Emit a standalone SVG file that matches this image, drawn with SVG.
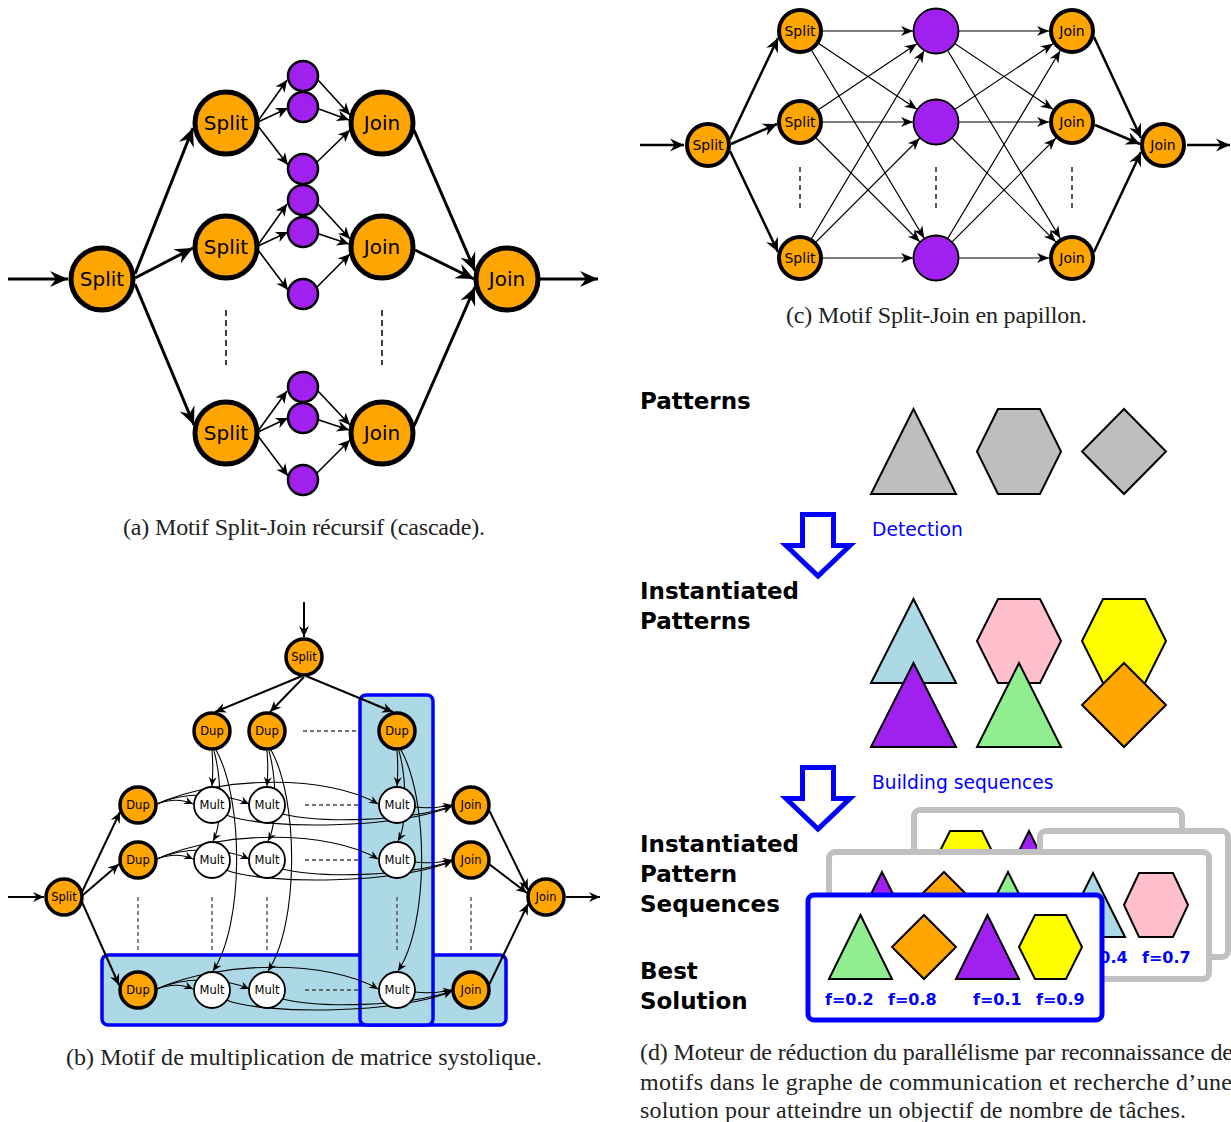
<svg xmlns="http://www.w3.org/2000/svg" width="1231" height="1122" viewBox="0 0 1231 1122">
  <style>
    text { font-family: "DejaVu Sans", sans-serif; }
    .lbl { text-anchor: middle; fill: #000; }
    .na { fill: #ffa500; stroke: #000; stroke-width: 5; }
    .pa { fill: #a020f0; stroke: #000; stroke-width: 2.5; }
    .ta { font-size: 20px; }
    .nc { fill: #ffa500; stroke: #000; stroke-width: 4; }
    .pc { fill: #a020f0; stroke: #000; stroke-width: 1.8; }
    .tc { font-size: 14px; }
    .nb { fill: #ffa500; stroke: #000; stroke-width: 3.5; }
    .mb { fill: #fff; stroke: #000; stroke-width: 1.8; }
    .tb { font-size: 11.5px; }
    .e { fill: none; stroke: #000; }
    .w3 { stroke-width: 3; }
    .w16 { stroke-width: 1.6; }
    .w25 { stroke-width: 2.5; }
    .w12 { stroke-width: 1.2; }
    .w2 { stroke-width: 2; }
    .w11 { stroke-width: 1.1; }
    .dashA { fill: none; stroke: #000; stroke-width: 1.5; stroke-dasharray: 6 4; }
    .dashC { fill: none; stroke: #000; stroke-width: 1.3; stroke-dasharray: 5 4; }
    .dashB { fill: none; stroke: #444; stroke-width: 1.3; stroke-dasharray: 4 3; }
    .box { fill: #add8e6; stroke: #0000ff; stroke-width: 3.5; }
    .cap { font-family: "Liberation Serif", serif; font-size: 24px; fill: #222; }
    .head { font-family: "DejaVu Sans", sans-serif; font-weight: bold; font-size: 23px; fill: #000; }
    .blue { font-size: 18.7px; fill: #0000ff; }
    .fv { font-weight: bold; font-size: 16px; fill: #0000ff; }
    .shp { stroke: #000; stroke-width: 2; }
    .card { fill: #fff; stroke: #c0c0c0; stroke-width: 6; }
    .best { fill: #fff; stroke: #0000ff; stroke-width: 5; }
    .hollow { fill: #fff; stroke: #0000ff; stroke-width: 5; stroke-miterlimit: 10; }
    marker path { fill: #000; stroke: none; }
  </style>
  <defs>
    <!-- arrowheads, tip placed at the end of the path -->
    <marker id="mA_thk" markerUnits="userSpaceOnUse" orient="auto" overflow="visible" markerWidth="1" markerHeight="1"><path d="M0,0 L-18,-8 L-12,0 L-18,8 Z"/></marker>
    <marker id="mA_thn" markerUnits="userSpaceOnUse" orient="auto" overflow="visible" markerWidth="1" markerHeight="1"><path d="M0,0 L-12,-5.5 L-8.5,0 L-12,5.5 Z"/></marker>
    <!-- butterfly thin edges: tip pulled back to the rim of a radius-23 circle -->
    <marker id="mC_thn" markerUnits="userSpaceOnUse" orient="auto" overflow="visible" markerWidth="1" markerHeight="1"><path d="M-23,0 L-35,-5 L-31.5,0 L-35,5 Z"/></marker>
    <marker id="mC_thk" markerUnits="userSpaceOnUse" orient="auto" overflow="visible" markerWidth="1" markerHeight="1"><path d="M0,0 L-14,-6.5 L-9.5,0 L-14,6.5 Z"/></marker>
    <marker id="mB_0" markerUnits="userSpaceOnUse" orient="auto" overflow="visible" markerWidth="1" markerHeight="1"><path d="M0,0 L-11,-5 L-7.5,0 L-11,5 Z"/></marker>
    <marker id="mB_s" markerUnits="userSpaceOnUse" orient="auto" overflow="visible" markerWidth="1" markerHeight="1"><path d="M0,0 L-9,-4 L-6,0 L-9,4 Z"/></marker>
  </defs>

  <!-- ===== (a) recursive split-join ===== -->
  <g id="a-connectors">
    <g class="e w3" marker-end="url(#mA_thk)">
      <path d="M8,279 L68,279"/>
      <path d="M135,274 L193,128"/>
      <path d="M135,278 L193,248"/>
      <path d="M135,284 L194,425"/>
      <path d="M414,130 L475,271"/>
      <path d="M415,250 L474,279"/>
      <path d="M414,426 L475,287"/>
      <path d="M540,279 L598,279"/>
    </g>
    <g class="e w16" marker-end="url(#mA_thn)">
      <path d="M258,121 L287,80"/><path d="M258,122 L288,108"/><path d="M258,126 L288,165"/>
      <path d="M258,245 L287,204"/><path d="M258,246 L288,232"/><path d="M258,250 L288,290"/>
      <path d="M258,431 L287,391"/><path d="M258,432 L288,418"/><path d="M258,436 L288,476"/>
      <path d="M318,80 L350,115"/><path d="M319,109 L349,120"/><path d="M317,162 L350,130"/>
      <path d="M318,204 L350,239"/><path d="M319,234 L349,244"/><path d="M317,287 L350,254"/>
      <path d="M318,391 L350,425"/><path d="M319,420 L349,430"/><path d="M317,473 L350,440"/>
    </g>
    <path class="dashA" d="M226,310 V365 M382,310 V365"/>
  </g>
  <g id="a-split0"><circle class="na" cx="102" cy="279" r="31"/><text class="lbl ta" x="102" y="286">Split</text></g>
  <g id="a-split1"><circle class="na" cx="226" cy="123" r="31"/><text class="lbl ta" x="226" y="130">Split</text></g>
  <g id="a-split2"><circle class="na" cx="226" cy="247" r="31"/><text class="lbl ta" x="226" y="254">Split</text></g>
  <g id="a-split3"><circle class="na" cx="226" cy="433" r="31"/><text class="lbl ta" x="226" y="440">Split</text></g>
  <g id="a-tasks">
    <circle class="pa" cx="303" cy="76" r="15"/><circle class="pa" cx="303" cy="107" r="15"/><circle class="pa" cx="303" cy="169" r="15"/>
    <circle class="pa" cx="303" cy="200" r="15"/><circle class="pa" cx="303" cy="232" r="15"/><circle class="pa" cx="303" cy="294" r="15"/>
    <circle class="pa" cx="303" cy="387" r="15"/><circle class="pa" cx="303" cy="418" r="15"/><circle class="pa" cx="303" cy="480" r="15"/>
  </g>
  <g id="a-join1"><circle class="na" cx="382" cy="123" r="31"/><text class="lbl ta" x="382" y="130">Join</text></g>
  <g id="a-join2"><circle class="na" cx="382" cy="247" r="31"/><text class="lbl ta" x="382" y="254">Join</text></g>
  <g id="a-join3"><circle class="na" cx="382" cy="433" r="31"/><text class="lbl ta" x="382" y="440">Join</text></g>
  <g id="a-join0"><circle class="na" cx="507" cy="279" r="31"/><text class="lbl ta" x="507" y="286">Join</text></g>
  <text class="cap" x="123" y="535" textLength="362">(a) Motif Split-Join récursif (cascade).</text>

  <!-- ===== (c) butterfly split-join ===== -->
  <g id="c-connectors">
    <g class="e w25" marker-end="url(#mC_thk)">
      <path d="M640,145 L684,145"/>
      <path d="M730,139 L778,38"/><path d="M731,144 L777,124"/><path d="M730,151 L778,252"/>
      <path d="M1094,37 L1141,138"/><path d="M1095,125 L1140,144"/><path d="M1094,252 L1141,152"/>
      <path d="M1187,145 L1230,145"/>
    </g>
    <g class="e w12" marker-end="url(#mC_thn)">
      <path d="M800,31 L936,31"/><path d="M800,31 L936,122"/><path d="M800,31 L936,258"/>
      <path d="M800,122 L936,31"/><path d="M800,122 L936,122"/><path d="M800,122 L936,258"/>
      <path d="M800,258 L936,31"/><path d="M800,258 L936,122"/><path d="M800,258 L936,258"/>
      <path d="M936,31 L1072,31"/><path d="M936,31 L1072,122"/><path d="M936,31 L1072,258"/>
      <path d="M936,122 L1072,31"/><path d="M936,122 L1072,122"/><path d="M936,122 L1072,258"/>
      <path d="M936,258 L1072,31"/><path d="M936,258 L1072,122"/><path d="M936,258 L1072,258"/>
    </g>
    <path class="dashC" d="M800,167 V208 M936,167 V208 M1072,167 V208"/>
  </g>
  <g id="c-split0"><circle class="nc" cx="708" cy="145" r="21"/><text class="lbl tc" x="708" y="150">Split</text></g>
  <g id="c-split1"><circle class="nc" cx="800" cy="31" r="21"/><text class="lbl tc" x="800" y="36">Split</text></g>
  <g id="c-split2"><circle class="nc" cx="800" cy="122" r="21"/><text class="lbl tc" x="800" y="127">Split</text></g>
  <g id="c-split3"><circle class="nc" cx="800" cy="258" r="21"/><text class="lbl tc" x="800" y="263">Split</text></g>
  <g id="c-tasks">
    <circle class="pc" cx="936" cy="31" r="22.5"/><circle class="pc" cx="936" cy="122" r="22.5"/><circle class="pc" cx="936" cy="258" r="22.5"/>
  </g>
  <g id="c-join1"><circle class="nc" cx="1072" cy="31" r="21"/><text class="lbl tc" x="1072" y="36">Join</text></g>
  <g id="c-join2"><circle class="nc" cx="1072" cy="122" r="21"/><text class="lbl tc" x="1072" y="127">Join</text></g>
  <g id="c-join3"><circle class="nc" cx="1072" cy="258" r="21"/><text class="lbl tc" x="1072" y="263">Join</text></g>
  <g id="c-join0"><circle class="nc" cx="1163" cy="145" r="21"/><text class="lbl tc" x="1163" y="150">Join</text></g>
  <text class="cap" x="786" y="323" textLength="301">(c) Motif Split-Join en papillon.</text>

  <!-- ===== (b) systolic matrix multiplication ===== -->
  <g id="b-highlight">
    <rect class="box" x="102" y="955" width="404" height="70" rx="6"/>
    <rect class="box" x="360" y="695" width="73" height="330" rx="6"/>
  </g>
  <g id="b-connectors">
    <g class="e w2" marker-end="url(#mB_0)">
      <path d="M304,602 L304,637"/>
      <path d="M302,676 L215,712"/><path d="M304,677 L270,712"/><path d="M306,676 L393,712"/>
      <path d="M8,897 L44,897"/>
      <path d="M82,892 L120,812"/><path d="M83,895 L119,864"/><path d="M82,902 L119,985"/>
      <path d="M489,810 L528,890"/><path d="M489,864 L527,893"/><path d="M489,985 L528,904"/>
      <path d="M566,897 L600,897"/>
    </g>
    <g class="e w11" marker-end="url(#mB_s)">
      <!-- row broadcasts and row results -->
      <path d="M157,804 C170,799 182,799 193,804"/>
      <path d="M157,804 C185,791 225,793 249,804"/>
      <path d="M157,804 C220,775 330,775 378,804"/>
      <path d="M226,815 C265,830 400,829 452,806"/>
      <path d="M282,814 C320,823 405,822 452,806"/>
      <path d="M415,807 C430,809 442,807 452,805"/>
      <path d="M157,859 C170,854 182,854 193,859"/>
      <path d="M157,859 C185,846 225,848 249,859"/>
      <path d="M157,859 C220,830 330,830 378,859"/>
      <path d="M226,870 C265,885 400,884 452,861"/>
      <path d="M282,869 C320,878 405,877 452,861"/>
      <path d="M415,862 C430,864 442,862 452,860"/>
      <path d="M157,989 C170,984 182,984 193,989"/>
      <path d="M157,989 C185,976 225,978 249,989"/>
      <path d="M157,989 C220,960 330,960 378,989"/>
      <path d="M226,1000 C265,1015 400,1014 452,991"/>
      <path d="M282,999 C320,1008 405,1007 452,991"/>
      <path d="M415,992 C430,994 442,992 452,990"/>
      <!-- column broadcasts -->
      <path d="M212,751 C213,762 213,774 212,786"/>
      <path d="M214,751 C222,780 222,825 213,841"/>
      <path d="M216,750 C244,800 244,925 213,971"/>
      <path d="M267,751 C268,762 268,774 267,786"/>
      <path d="M269,751 C277,780 277,825 268,841"/>
      <path d="M271,750 C299,800 299,925 268,971"/>
      <path d="M397,751 C398,762 398,774 397,786"/>
      <path d="M399,751 C407,780 407,825 398,841"/>
      <path d="M401,750 C429,800 429,925 398,971"/>
    </g>
    <path class="dashB" d="M303,731 H357 M305,805 H360 M305,860 H360 M305,990 H360"/>
    <path class="dashB" d="M138,897 V953 M212,897 V953 M267,897 V953 M397,897 V953 M471,897 V953"/>
  </g>
  <g id="b-split-top"><circle class="nb" cx="304" cy="657" r="18"/><text class="lbl tb" x="304" y="661">Split</text></g>
  <g id="b-dup-c1"><circle class="nb" cx="212" cy="731" r="18"/><text class="lbl tb" x="212" y="735">Dup</text></g>
  <g id="b-dup-c2"><circle class="nb" cx="267" cy="731" r="18"/><text class="lbl tb" x="267" y="735">Dup</text></g>
  <g id="b-dup-c3"><circle class="nb" cx="397" cy="731" r="18"/><text class="lbl tb" x="397" y="735">Dup</text></g>
  <g id="b-split-left"><circle class="nb" cx="64" cy="897" r="18"/><text class="lbl tb" x="64" y="901">Split</text></g>
  <g id="b-dup-r1"><circle class="nb" cx="138" cy="805" r="18"/><text class="lbl tb" x="138" y="809">Dup</text></g>
  <g id="b-dup-r2"><circle class="nb" cx="138" cy="860" r="18"/><text class="lbl tb" x="138" y="864">Dup</text></g>
  <g id="b-dup-r3"><circle class="nb" cx="138" cy="990" r="18"/><text class="lbl tb" x="138" y="994">Dup</text></g>
  <g id="b-mult-11"><circle class="mb" cx="212" cy="805" r="18"/><text class="lbl tb" x="212" y="809">Mult</text></g>
  <g id="b-mult-12"><circle class="mb" cx="267" cy="805" r="18"/><text class="lbl tb" x="267" y="809">Mult</text></g>
  <g id="b-mult-13"><circle class="mb" cx="397" cy="805" r="18"/><text class="lbl tb" x="397" y="809">Mult</text></g>
  <g id="b-mult-21"><circle class="mb" cx="212" cy="860" r="18"/><text class="lbl tb" x="212" y="864">Mult</text></g>
  <g id="b-mult-22"><circle class="mb" cx="267" cy="860" r="18"/><text class="lbl tb" x="267" y="864">Mult</text></g>
  <g id="b-mult-23"><circle class="mb" cx="397" cy="860" r="18"/><text class="lbl tb" x="397" y="864">Mult</text></g>
  <g id="b-mult-31"><circle class="mb" cx="212" cy="990" r="18"/><text class="lbl tb" x="212" y="994">Mult</text></g>
  <g id="b-mult-32"><circle class="mb" cx="267" cy="990" r="18"/><text class="lbl tb" x="267" y="994">Mult</text></g>
  <g id="b-mult-33"><circle class="mb" cx="397" cy="990" r="18"/><text class="lbl tb" x="397" y="994">Mult</text></g>
  <g id="b-join-r1"><circle class="nb" cx="471" cy="805" r="18"/><text class="lbl tb" x="471" y="809">Join</text></g>
  <g id="b-join-r2"><circle class="nb" cx="471" cy="860" r="18"/><text class="lbl tb" x="471" y="864">Join</text></g>
  <g id="b-join-r3"><circle class="nb" cx="471" cy="990" r="18"/><text class="lbl tb" x="471" y="994">Join</text></g>
  <g id="b-join-out"><circle class="nb" cx="546" cy="897" r="18"/><text class="lbl tb" x="546" y="901">Join</text></g>
  <text class="cap" x="66" y="1065" textLength="476">(b) Motif de multiplication de matrice systolique.</text>

  <!-- ===== (d) reduction engine ===== -->
  <g id="d-labels">
    <text class="head" x="640" y="409">Patterns</text>
    <text class="head" x="640" y="599">Instantiated</text>
    <text class="head" x="640" y="629">Patterns</text>
    <text class="head" x="640" y="852">Instantiated</text>
    <text class="head" x="640" y="882">Pattern</text>
    <text class="head" x="640" y="912">Sequences</text>
    <text class="head" x="640" y="979">Best</text>
    <text class="head" x="640" y="1009">Solution</text>
  </g>
  <g id="d-patterns">
    <polygon class="shp" fill="#bebebe" points="871,494 956,494 913.5,409"/>
    <polygon class="shp" fill="#bebebe" points="977,451.5 998,409 1040,409 1061,451.5 1040,494 998,494"/>
    <polygon class="shp" fill="#bebebe" points="1124,409 1166,451.5 1124,494 1082,451.5"/>
  </g>
  <g id="d-detection">
    <path class="hollow" d="M802.5,514.5 H833.5 V545.5 H850 L818,576 L786,545.5 H802.5 Z"/>
    <text class="blue" x="872" y="536">Detection</text>
  </g>
  <g id="d-instances">
    <polygon class="shp" fill="#add8e6" points="871,683 956,683 913.5,599"/>
    <polygon class="shp" fill="#ffc0cb" points="977,641 998,599 1040,599 1061,641 1040,683 998,683"/>
    <polygon class="shp" fill="#ffff00" points="1082,641 1103,599 1145,599 1166,641 1145,683 1103,683"/>
    <polygon class="shp" fill="#a020f0" points="871,747 956,747 913.5,663"/>
    <polygon class="shp" fill="#90ee90" points="977,747 1061,747 1019,663"/>
    <polygon class="shp" fill="#ffa500" points="1124,663 1166,705 1124,747 1082,705"/>
  </g>
  <g id="d-building">
    <path class="hollow" d="M802.5,767.5 H833.5 V798.5 H850 L818,829 L786,798.5 H802.5 Z"/>
    <text class="blue" x="872" y="789">Building sequences</text>
  </g>
  <g id="d-seq-back1">
    <rect class="card" x="914" y="810" width="268" height="140" rx="6"/>
    <polygon class="shp" fill="#ffff00" points="934,863 950,831 982,831 998,863 982,895 950,895"/>
    <polygon class="shp" fill="#a020f0" points="997,895 1061,895 1029,831"/>
  </g>
  <g id="d-seq-back2">
    <rect class="card" x="1040" y="831" width="188" height="126" rx="6"/>
  </g>
  <g id="d-seq-mid">
    <rect class="card" x="829" y="852" width="380" height="127" rx="6"/>
    <polygon class="shp" fill="#a020f0" points="850,936 914,936 882,872"/>
    <polygon class="shp" fill="#ffa500" points="944,872 976,904 944,936 912,904"/>
    <polygon class="shp" fill="#90ee90" points="976,936 1040,936 1008,872"/>
    <polygon class="shp" fill="#add8e6" points="1061,937 1125,937 1093,873"/>
    <polygon class="shp" fill="#ffc0cb" points="1124,905 1139,873 1173,873 1188,905 1173,937 1139,937"/>
    <text class="fv" x="1079" y="963">f=0.4</text>
    <text class="fv" x="1142" y="963">f=0.7</text>
  </g>
  <g id="d-seq-best">
    <rect class="best" x="808" y="895" width="294" height="125" rx="6"/>
    <polygon class="shp" fill="#90ee90" points="829,979 892,979 860.5,915"/>
    <polygon class="shp" fill="#ffa500" points="924,915 956,947 924,979 892,947"/>
    <polygon class="shp" fill="#a020f0" points="956,979 1019,979 987.5,915"/>
    <polygon class="shp" fill="#ffff00" points="1019,947 1035,915 1066,915 1082,947 1066,979 1035,979"/>
    <text class="fv" x="825" y="1005">f=0.2</text>
    <text class="fv" x="888" y="1005">f=0.8</text>
    <text class="fv" x="973" y="1005">f=0.1</text>
    <text class="fv" x="1036" y="1005">f=0.9</text>
  </g>
  <g id="d-caption">
    <text class="cap" x="640" y="1060" textLength="593">(d) Moteur de réduction du parallélisme par reconnaissance de</text>
    <text class="cap" x="640" y="1090" textLength="592">motifs dans le graphe de communication et recherche d’une</text>
    <text class="cap" x="640" y="1118" textLength="546">solution pour atteindre un objectif de nombre de tâches.</text>
  </g>
</svg>
